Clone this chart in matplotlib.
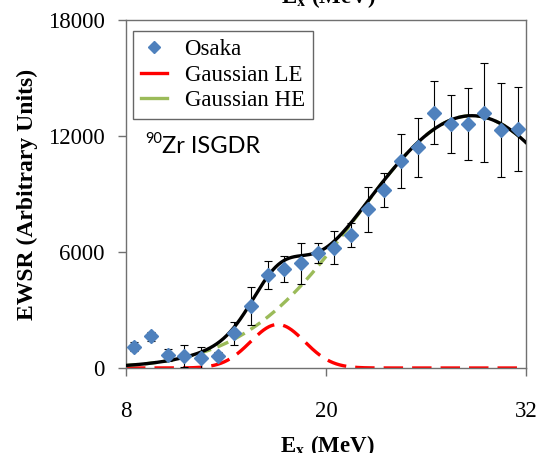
import numpy as np
import matplotlib
matplotlib.use("Agg")
import matplotlib.pyplot as plt

plt.rcParams['font.family'] = ['Liberation Serif', 'DejaVu Serif']
plt.rcParams['mathtext.fontset'] = 'stix'
plt.rcParams['lines.scale_dashes'] = False

# Measured strength (Osaka) per 1 MeV bin
energy = [8.5, 9.5, 10.5, 11.5, 12.5, 13.5, 14.5, 15.5, 16.5, 17.5, 18.5, 19.5,
          20.5, 21.5, 22.5, 23.5, 24.5, 25.5, 26.5, 27.5, 28.5, 29.5, 30.5, 31.5]
ewsr = [1100, 1650, 670, 620, 530, 640, 1790, 3220, 4810, 5100, 5410, 5930,
        6220, 6880, 8210, 9210, 10710, 11420, 13210, 12620, 12620, 13210, 12310, 12360]
ewsr_err = [220, 230, 330, 560, 560, 200, 590, 975, 710, 670, 1050, 520,
            860, 630, 1160, 880, 1380, 1530, 1610, 1500, 1850, 2550, 2430, 2150]

# Two-Gaussian decomposition: (amplitude, centroid MeV, sigma MeV)
le_params = (2250, 17.1, 1.62)
he_params = (13050, 28.75, 6.85)

x_ticks = [8, 20, 32]
y_ticks = [0, 6000, 12000, 18000]


def gauss(e, amp, cen, sig):
    return amp * np.exp(-(e - cen) ** 2 / (2 * sig ** 2))


def fx(px):
    return px / 537


def fy(py):
    return 1 - py / 453


e_fine = np.linspace(8, 32, 600)
le = gauss(e_fine, *le_params)
he = gauss(e_fine, *he_params)
total = le + he

fig = plt.figure(figsize=(5.37, 4.53), dpi=100)
ax = fig.add_axes([fx(126), fy(368), 400 / 537, 348 / 453])

ax.plot(e_fine, le, color='#FF0000', lw=2.4, dashes=(14, 6.5), zorder=2)
ax.plot(e_fine, he, color='#9BBB59', lw=2.4, dashes=(8.5, 5), zorder=2)
ax.plot(e_fine, total, color='black', lw=2.4, zorder=3)
ax.errorbar(energy, ewsr, yerr=ewsr_err, fmt='none', ecolor='black',
            elinewidth=0.8, capsize=2.6, capthick=0.8, zorder=4)
ax.plot(energy, ewsr, ls='none', marker='D', ms=7, color='#4F81BD',
        mec='#4F81BD', zorder=5)

# Legend entries drawn as plain lines
h_osaka, = ax.plot([], [], ls='none', marker='D', ms=6, color='#4F81BD')
h_le, = ax.plot([], [], color='#FF0000', lw=2.4)
h_he, = ax.plot([], [], color='#9BBB59', lw=2.4)
leg = ax.legend([h_osaka, h_le, h_he], ['Osaka', 'Gaussian LE', 'Gaussian HE'],
                loc='upper left', bbox_to_anchor=(0.0175, 0.968), borderaxespad=0,
                fontsize=16.5, frameon=True, fancybox=False, shadow=False,
                handlelength=1.15, handletextpad=0.75, borderpad=0.35,
                labelspacing=0.2)
leg.get_frame().set_edgecolor('#404040')
leg.get_frame().set_linewidth(1.0)

fig.text(fx(145), fy(143), '90', family=['Lato', 'DejaVu Sans'], fontsize=10.5,
         va='baseline', ha='left')
fig.text(fx(162), fy(153), 'Zr ISGDR', family=['Lato', 'DejaVu Sans'],
         fontsize=17, va='baseline', ha='left')

ax.set_xlim(8, 32)
ax.set_ylim(0, 18000)
ax.set_xticks(x_ticks)
ax.set_yticks(y_ticks)
ax.tick_params(direction='out', length=5.5, width=1, colors='#707070',
               labelcolor='black', labelsize=16.5)
ax.tick_params(axis='y', pad=10)
ax.tick_params(axis='x', pad=18)
for sp in ax.spines.values():
    sp.set_color('#707070')
    sp.set_linewidth(1.0)

fig.text(fx(27), fy(194), 'EWSR (Arbitrary Units)', rotation=90,
         ha='center', va='center', fontsize=17, fontweight='bold')
fig.text(fx(327), fy(452), r'E$_\mathbf{x}$ (MeV)', ha='center',
         va='baseline', fontsize=16.5, fontweight='bold')
fig.text(fx(328), fy(3.5), r'E$_\mathbf{x}$ (MeV)', ha='center',
         va='baseline', fontsize=16.5, fontweight='bold')

fig.savefig('out.png', dpi=100)
